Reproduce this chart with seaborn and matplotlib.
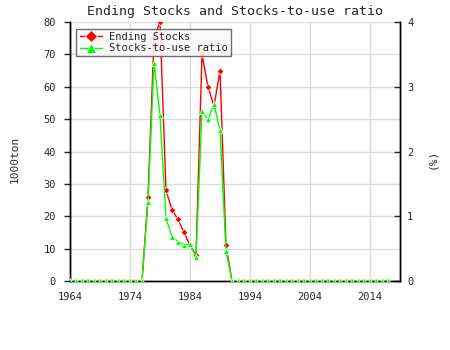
import matplotlib
matplotlib.use("Agg")
import matplotlib.pyplot as plt
import matplotlib.ticker as mticker
import seaborn as sns
import numpy as np

years = list(range(1964, 2018))
ending_stocks = [0]*13 + [26, 75, 80, 28, 22, 19, 15, 11, 8, 70, 60, 54, 65, 11] + [0]*27
stocks_to_use = [0]*13 + [1.22, 3.37, 2.56, 0.97, 0.68, 0.61, 0.56, 0.57, 0.37,
                          2.62, 2.50, 2.73, 2.33, 0.47] + [0]*27

title = "Ending Stocks and Stocks-to-use ratio"
left_label = "1000ton"
right_label = "(%)"
series_names = ["Ending Stocks", "Stocks-to-use ratio"]
xtick_years = [1964, 1974, 1984, 1994, 2004, 2014]

sns.set_style("white")
plt.rcParams['font.family'] = ['DejaVu Sans Mono']

fig = plt.figure(figsize=(4.5, 3.5), dpi=100)
ax = fig.add_axes([70/450, 69/350, 330/450, 259/350])
ax2 = ax.twinx()

sns.lineplot(x=years, y=ending_stocks, ax=ax, color="red", marker="D",
             markersize=3.5, markeredgewidth=0.5, linewidth=1,
             label=series_names[0], legend=False, zorder=3)
sns.lineplot(x=years, y=stocks_to_use, ax=ax2, color="#00ff00", marker="^",
             markersize=4, markeredgewidth=0.5, linewidth=1,
             label=series_names[1], legend=False, zorder=3)

ax.set_xlim(1964, 2019)
ax.set_ylim(0, 80)
ax2.set_ylim(0, 4)

ax.xaxis.set_major_locator(mticker.FixedLocator(xtick_years))
ax.xaxis.set_minor_locator(mticker.FixedLocator([y + 5 for y in xtick_years]))
ax.yaxis.set_major_locator(mticker.MultipleLocator(10))
ax2.yaxis.set_major_locator(mticker.MultipleLocator(1))

ax.grid(True, which="major", color="#dcdcdc", linewidth=1)
ax.set_axisbelow(True)

for s in ["top"]:
    ax.spines[s].set_visible(False)
    ax2.spines[s].set_visible(False)
for a in (ax, ax2):
    for s in ["left", "bottom", "right"]:
        a.spines[s].set_color("black")
        a.spines[s].set_linewidth(1)

ax.tick_params(axis="x", which="both", direction="in", length=4, width=1,
               labelsize=7.5, pad=8, color="black")
ax.tick_params(axis="y", direction="out", length=4, width=1, labelsize=7.5, pad=6)
ax2.tick_params(axis="y", direction="in", length=4, width=1, labelsize=7.5, pad=5)

ax.set_xlabel("")
ax.set_ylabel(left_label, fontsize=8)
ax2.set_ylabel(right_label, fontsize=8)
ax.yaxis.set_label_coords(-50/330, 0.47)
ax2.yaxis.set_label_coords(1 + 27/330, 0.47)
ax.set_title(title, fontsize=9.5, pad=5)

h1, l1 = ax.get_legend_handles_labels()
h2, l2 = ax2.get_legend_handles_labels()
leg = ax2.legend(h1 + h2, l1 + l2, loc="upper left", bbox_to_anchor=(0.01, 0.985),
                 fontsize=7.5, frameon=True, fancybox=False, framealpha=0.85,
                 edgecolor="#555555", facecolor="#f8f8f8", markerscale=1.8,
                 handlelength=2.2, borderpad=0.3, labelspacing=0.1,
                 handletextpad=0.6, borderaxespad=0.3)
leg.get_frame().set_linewidth(1)

fig.savefig("out.png", dpi=100)
